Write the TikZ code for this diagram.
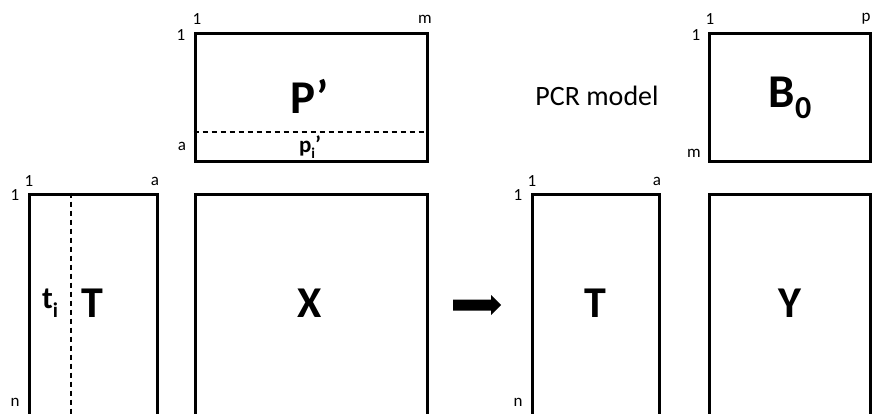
\documentclass[tikz,border=0pt]{standalone}
\usepackage{fontspec}
\setmainfont{Carlito}
\begin{document}
\begin{tikzpicture}[x=1pt,y=-1pt,
  mat/.style={draw=black,line width=3pt,fill=none,inner sep=0pt},
  big/.style={font=\fontsize{44}{44}\selectfont\bfseries},
  idx/.style={font=\fontsize{17}{17}\selectfont,inner sep=0pt},
  dashline/.style={line width=1.2pt,dash pattern=on 5pt off 4pt}]
\clip (0,0) rectangle (872,413);
\fill[white] (0,0) rectangle (872,413);
% boxes
\node[mat,minimum width=232pt,minimum height=128pt] (P) at (311,97) {};
\node[mat,minimum width=161.5pt,minimum height=128pt] (B) at (789.75,97) {};
\node[mat,minimum width=128pt,minimum height=222pt] (TL) at (93,305) {};
\node[mat,minimum width=232pt,minimum height=222pt] (X) at (311,305) {};
\node[mat,minimum width=127pt,minimum height=222pt] (TR) at (595.5,305) {};
\node[mat,minimum width=161.5pt,minimum height=222pt] (Y) at (789.75,305) {};
% dashed lines
\coordinate (pa) at (P.west |- 0,132);
\coordinate (pb) at (P.east |- 0,132);
\draw[dashline] (pa) -- (pb);
\coordinate (ta) at (71,0 |- TL.north);
\coordinate (tb) at (71,0 |- TL.south);
\draw[dashline] (ta) -- (tb);
% big labels
\node[big,font=\fontsize{47}{47}\selectfont\bfseries] (Plab) at (310,96) {P’};
\node[big,font=\fontsize{47}{47}\selectfont\bfseries] (Blab) at (790,98) {B\raisebox{-0.22em}{\fontsize{32}{32}\selectfont 0}};
\node[big] (TLlab) at (92,303) {T};
\node[big] (Xlab) at (310,303) {X};
\node[big] (TRlab) at (595,303) {T};
\node[big] (Ylab) at (790,303) {Y};
\node[font=\fontsize{23}{23}\selectfont\bfseries,inner sep=0pt] (pi) at (310,147) {p\raisebox{-0.25em}{\fontsize{15}{15}\selectfont i}’};
\node[font=\fontsize{31}{31}\selectfont\bfseries,inner sep=0pt] (ti) at (50,303) {t\raisebox{-0.3em}{\fontsize{21}{21}\selectfont i}};
\node[font=\fontsize{28}{28}\selectfont,inner sep=0pt] (pcr) at (597,96) {PCR model};
% index labels
\node[idx] (p1t) at (197,19) {1};
\node[idx] (pmt) at (425,19) {m};
\node[idx] (p1l) at (181,35) {1};
\node[idx] (pal) at (182,146) {a};
\node[idx] (b1t) at (710,19) {1};
\node[idx] (bpt) at (866,19) {p};
\node[idx] (b1l) at (696,35) {1};
\node[idx] (bml) at (694,153) {m};
\node[idx] (tl1t) at (29,181) {1};
\node[idx] (tlat) at (155,181) {a};
\node[idx] (tl1l) at (15,195) {1};
\node[idx] (tlnl) at (15,402) {n};
\node[idx] (tr1t) at (532,181) {1};
\node[idx] (trat) at (657,181) {a};
\node[idx] (tr1l) at (518,195) {1};
\node[idx] (trnl) at (518,402) {n};
% arrow
\coordinate (arrs) at (453,305);
\coordinate (arre) at (501,305);
\fill[black] (arrs) ++(0,-5.5) -- ++(38,0) -- ++(0,-4.5) -- (arre) -- (491,315) -- ++(0,-4.5) -- ++(-38,0) -- cycle;
\end{tikzpicture}
\end{document}
